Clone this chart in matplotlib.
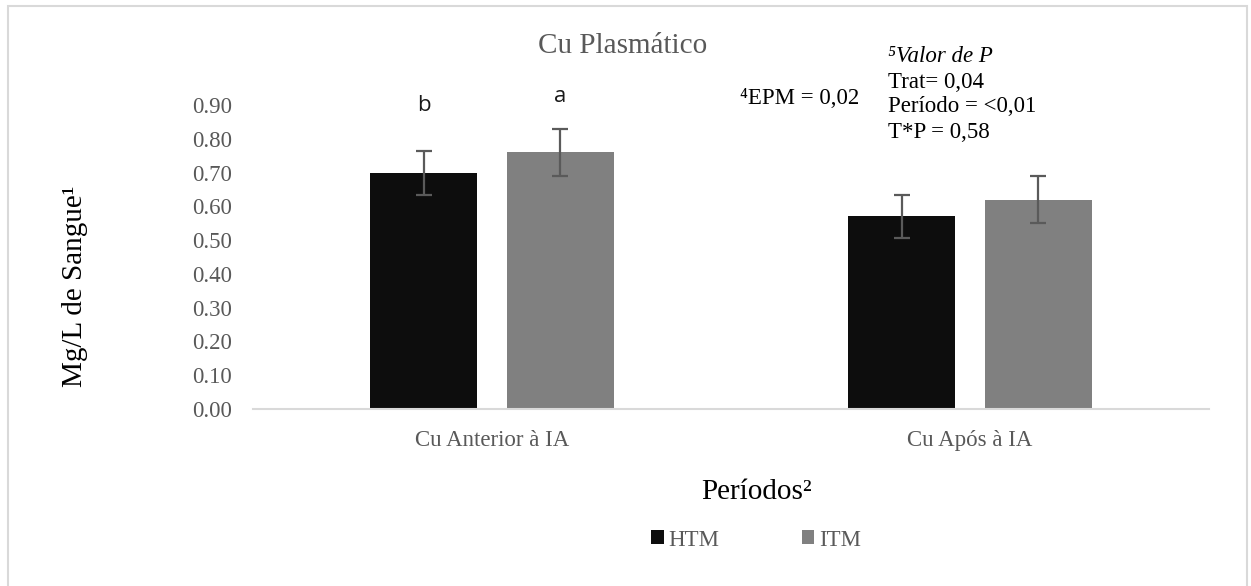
import matplotlib
matplotlib.use("Agg")
import matplotlib.pyplot as plt
from matplotlib.patches import Rectangle
import numpy as np

categories = ["Cu Anterior à IA", "Cu Após à IA"]
series_names = ["HTM", "ITM"]
htm_values = [0.70, 0.57]
itm_values = [0.76, 0.62]
htm_err = [0.065, 0.065]
itm_err = [0.07, 0.07]
yticks = [0.0, 0.1, 0.2, 0.3, 0.4, 0.5, 0.6, 0.7, 0.8, 0.9]
letters_htm = ["b", ""]
letters_itm = ["a", ""]

SERIF = ["Liberation Serif", "DejaVu Serif"]
GRAY = "#595959"
plt.rcParams['font.family'] = SERIF

W, H = 1251, 586
fig = plt.figure(figsize=(W / 100, H / 100), dpi=100)
ax = fig.add_axes([253 / W, (H - 409) / H, (1209 - 253) / W, (409 - 105) / H])

x = np.arange(len(categories))
bw = 0.2236
off = 0.1425
ax.bar(x - off, htm_values, bw, color="#0d0d0d", label=series_names[0], zorder=2)
ax.bar(x + off, itm_values, bw, color="#808080", label=series_names[1], zorder=2)
ax.errorbar(x - off, htm_values, yerr=htm_err, fmt="none", ecolor="#5a5a5a",
            elinewidth=1.6, capsize=5.5, capthick=1.6, zorder=3)
ax.errorbar(x + off, itm_values, yerr=itm_err, fmt="none", ecolor="#5a5a5a",
            elinewidth=1.6, capsize=5.5, capthick=1.6, zorder=3)

ax.set_xlim(-0.5, 1.5)
ax.set_ylim(0, 0.9)
ax.set_yticks(yticks)
ax.set_yticklabels([f"{v:.2f}" for v in yticks])
ax.set_xticks(x)
ax.set_xticklabels(categories)
for s in ["top", "right", "left"]:
    ax.spines[s].set_visible(False)
ax.spines["bottom"].set_color("#d9d9d9")
ax.spines["bottom"].set_linewidth(1.5)
ax.tick_params(axis="y", length=0, pad=15, labelsize=16.5, labelcolor=GRAY)
ax.tick_params(axis="x", length=0, pad=15, labelsize=16.5, labelcolor=GRAY)
ax.patch.set_alpha(0)

# significance letters
for i in range(len(categories)):
    if letters_htm[i]:
        ax.text(x[i] - off, 0.90, letters_htm[i], ha="center", va="center",
                fontsize=16, family=["Open Sans", "DejaVu Sans"], color="#1a1a1a")
    if letters_itm[i]:
        ax.text(x[i] + off, 0.925, letters_itm[i], ha="center", va="center",
                fontsize=16, family=["Open Sans", "DejaVu Sans"], color="#1a1a1a")

# title and labels
fig.text(623 / W, 1 - 46 / H, "Cu Plasmático", ha="center", va="center",
         fontsize=21, color=GRAY)
fig.text(75 / W, 1 - 286 / H, "Mg/L de Sangue¹", ha="center", va="center",
         rotation=90, fontsize=21, color="black")
fig.text(757 / W, 1 - 492 / H, "Períodos²", ha="center", va="center",
         fontsize=21, color="black")

# annotations
fig.text(740 / W, 1 - 98 / H, "⁴EPM = 0,02", ha="left", va="center",
         fontsize=16.5, color="black")
fig.text(888 / W, 1 - 57 / H, "⁵Valor de P", ha="left", va="center",
         fontsize=16.5, color="black", style="italic")
fig.text(888 / W, 1 - 82 / H, "Trat= 0,04", ha="left", va="center",
         fontsize=16.5, color="black")
fig.text(888 / W, 1 - 107 / H, "Período = <0,01", ha="left", va="center",
         fontsize=16.5, color="black")
fig.text(888 / W, 1 - 132 / H, "T*P = 0,58", ha="left", va="center",
         fontsize=16.5, color="black")

# legend
leg = fig.legend(loc="center", bbox_to_anchor=(756 / W, 1 - 540 / H), ncol=2,
                 frameon=False, fontsize=16.5, handlelength=0.55, handleheight=0.55,
                 handletextpad=0.2, columnspacing=3.6)
for t in leg.get_texts():
    t.set_color(GRAY)

# figure border
fig.patches.append(Rectangle((8 / W, -0.05), (1247 - 8) / W, 1.05 - 6 / H,
                             transform=fig.transFigure, fill=False,
                             edgecolor="#d9d9d9", linewidth=1.5))

fig.savefig("out.png", dpi=100)
